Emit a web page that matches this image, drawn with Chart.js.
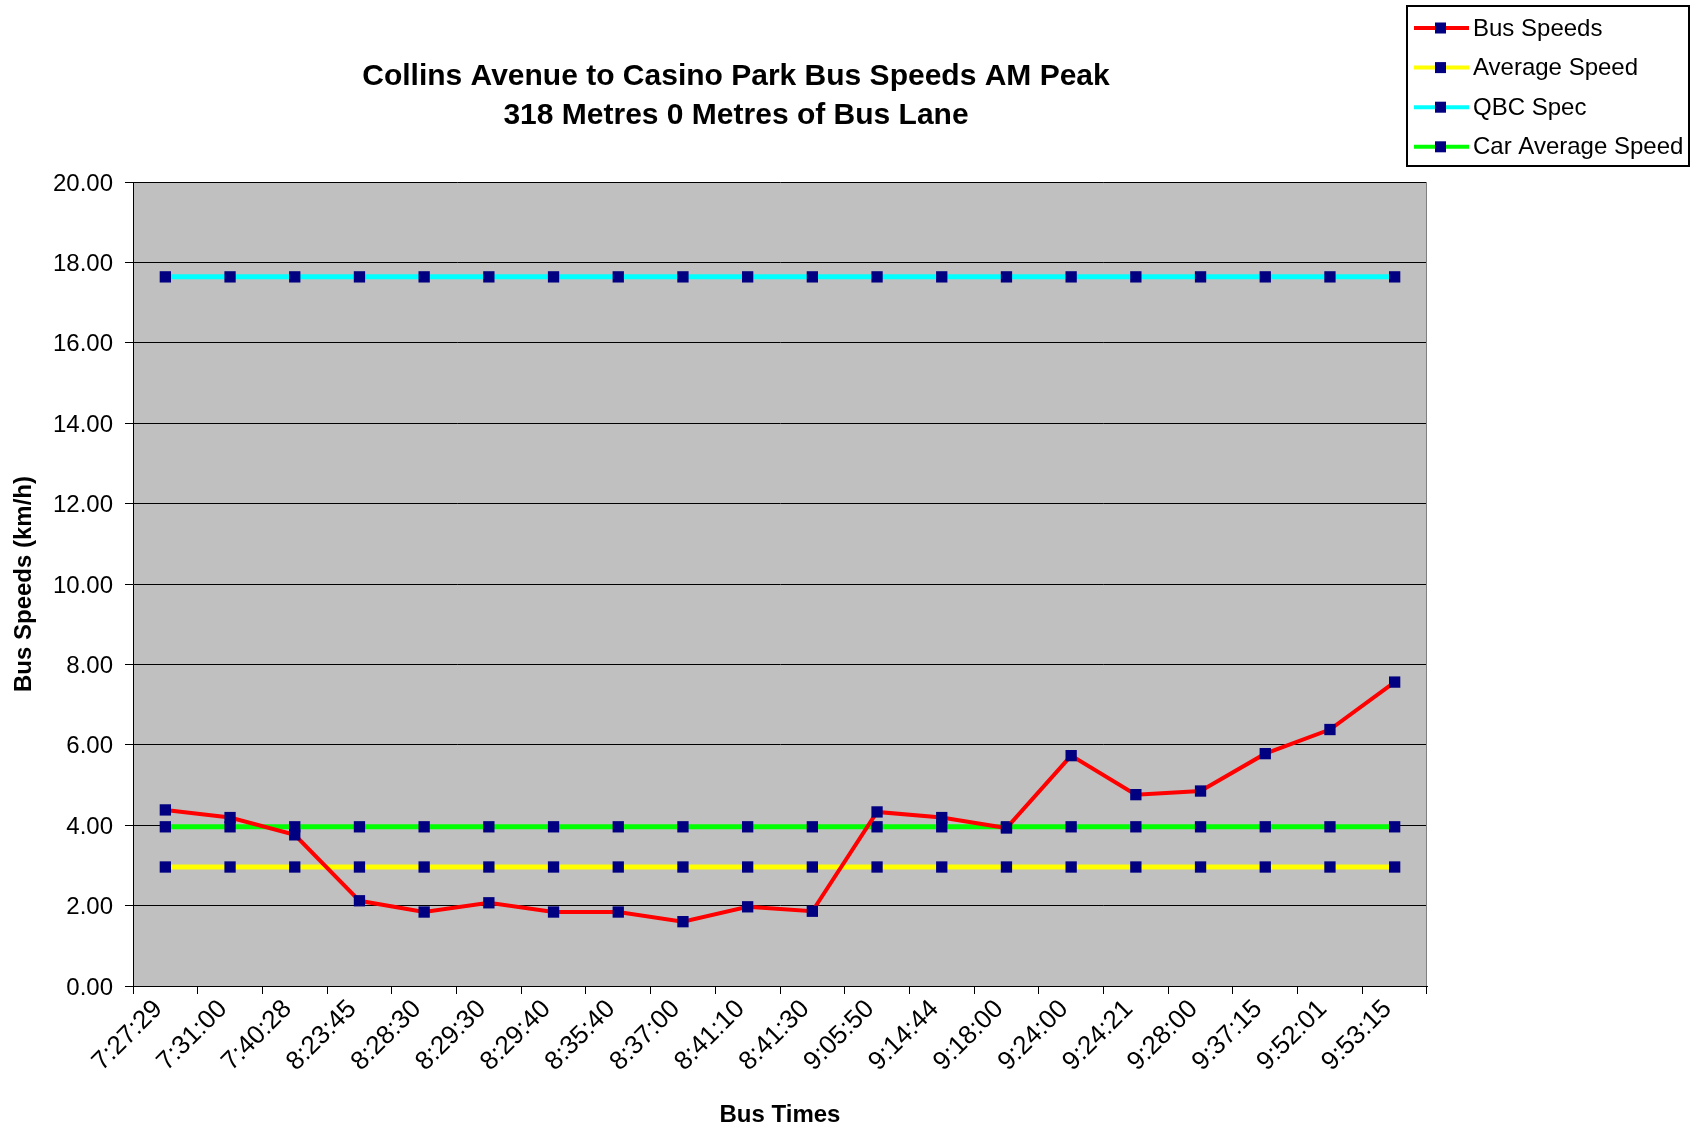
<!DOCTYPE html>
<html>
<head>
<meta charset="utf-8">
<title>Collins Avenue to Casino Park Bus Speeds AM Peak</title>
<script src="https://cdn.jsdelivr.net/npm/chart.js@4.4.1/dist/chart.umd.min.js"></script>
<style>
  body { margin: 0; background: #fff; }
</style>
</head>
<body>
<canvas id="myChart" width="1694" height="1129"></canvas>
<script>
var busTimes = ['7:27:29', '7:31:00', '7:40:28', '8:23:45', '8:28:30', '8:29:30', '8:29:40',
  '8:35:40', '8:37:00', '8:41:10', '8:41:30', '9:05:50', '9:14:44', '9:18:00', '9:24:00',
  '9:24:21', '9:28:00', '9:37:15', '9:52:01', '9:53:15'];

var busSpeeds = [4.38, 4.19, 3.76, 2.12, 1.84, 2.07, 1.84, 1.84, 1.60, 1.97, 1.86,
  4.33, 4.19, 3.93, 5.73, 4.76, 4.85, 5.78, 6.38, 7.56];

var averageSpeed = [2.96, 2.96, 2.96, 2.96, 2.96, 2.96, 2.96, 2.96, 2.96, 2.96,
  2.96, 2.96, 2.96, 2.96, 2.96, 2.96, 2.96, 2.96, 2.96, 2.96];

var qbcSpec = [17.64, 17.64, 17.64, 17.64, 17.64, 17.64, 17.64, 17.64, 17.64, 17.64,
  17.64, 17.64, 17.64, 17.64, 17.64, 17.64, 17.64, 17.64, 17.64, 17.64];

var carAverageSpeed = [3.96, 3.96, 3.96, 3.96, 3.96, 3.96, 3.96, 3.96, 3.96, 3.96,
  3.96, 3.96, 3.96, 3.96, 3.96, 3.96, 3.96, 3.96, 3.96, 3.96];

var titleLines = ['Collins Avenue to Casino Park Bus Speeds AM Peak', '318 Metres 0 Metres of Bus Lane'];

var fontFamily = '"Liberation Sans", Arial, sans-serif';
var markerColor = '#000080';

Chart.defaults.color = '#000';
Chart.defaults.font.family = fontFamily;

function series(label, values, color, width) {
  return {
    label: label,
    data: values,
    borderColor: color,
    backgroundColor: markerColor,
    borderWidth: width,
    pointStyle: 'rect',
    pointRadius: 8,
    pointBorderWidth: 0,
    pointBackgroundColor: markerColor,
    tension: 0,
    fill: false
  };
}

// grey plot area, title and the boxed legend, drawn the way the old spreadsheet did
var excelLook = {
  id: 'excelLook',
  beforeDraw: function (chart) {
    var a = chart.chartArea, ctx = chart.ctx;
    ctx.save();
    ctx.fillStyle = '#C0C0C0';
    ctx.fillRect(a.left, a.top, a.right - a.left, a.bottom - a.top);
    ctx.restore();
  },
  afterDraw: function (chart) {
    var a = chart.chartArea, ctx = chart.ctx;
    ctx.save();
    ctx.strokeStyle = '#808080';
    ctx.lineWidth = 1;
    ctx.beginPath();
    ctx.moveTo(a.right - 0.5, a.top);
    ctx.lineTo(a.right - 0.5, a.bottom);
    ctx.stroke();

    // title
    ctx.fillStyle = '#000';
    ctx.textAlign = 'center';
    ctx.textBaseline = 'middle';
    ctx.font = 'bold 30px ' + fontFamily;
    ctx.fillText(titleLines[0], 736, 77);
    ctx.fillText(titleLines[1], 736, 116);

    // legend
    ctx.fillStyle = '#fff';
    ctx.fillRect(1407, 6, 282, 160);
    ctx.strokeStyle = '#000';
    ctx.lineWidth = 2;
    ctx.strokeRect(1407, 6, 282, 160);
    ctx.font = '24px ' + fontFamily;
    ctx.textAlign = 'left';
    chart.data.datasets.forEach(function (ds, i) {
      var y = 28 + i * 39.6;
      ctx.strokeStyle = ds.borderColor;
      ctx.lineWidth = 4;
      ctx.beginPath();
      ctx.moveTo(1414, y);
      ctx.lineTo(1469, y);
      ctx.stroke();
      ctx.fillStyle = markerColor;
      ctx.fillRect(1435, y - 5.5, 11, 11);
      ctx.fillStyle = '#000';
      ctx.fillText(ds.label, 1473, y + 1);
    });
    ctx.restore();
  }
};

var ctx = document.getElementById('myChart');
var myChart = new Chart(ctx, {
  type: 'line',
  data: {
    labels: busTimes,
    datasets: [
      series('Bus Speeds', busSpeeds, '#FF0000', 4),
      series('Average Speed', averageSpeed, '#FFFF00', 5),
      series('QBC Spec', qbcSpec, '#00FFFF', 5),
      series('Car Average Speed', carAverageSpeed, '#00FF00', 5)
    ]
  },
  options: {
    responsive: false,
    animation: false,
    devicePixelRatio: 1,
    layout: { padding: { left: 0, right: 267, top: 182, bottom: 0 } },
    plugins: {
      legend: { display: false },
      title: { display: false },
      tooltip: { enabled: false }
    },
    scales: {
      x: {
        offset: true,
        afterFit: function (axis) { axis.height = 143; },
        grid: { offset: true, drawOnChartArea: false, color: '#000', tickLength: 8 },
        border: { color: '#000', width: 1 },
        ticks: {
          autoSkip: false,
          maxRotation: 45,
          minRotation: 45,
          padding: 0,
          labelOffset: -7,
          font: { size: 26 }
        },
        title: {
          display: true,
          text: 'Bus Times',
          font: { size: 24, weight: 'bold', lineHeight: 1.1 },
          padding: { top: 0, bottom: 0 }
        }
      },
      y: {
        min: 0,
        max: 20,
        afterFit: function (axis) { axis.width = 133; },
        grid: { color: '#000', tickLength: 8 },
        border: { color: '#000', width: 1 },
        ticks: {
          stepSize: 2,
          padding: 12,
          labelOffset: 2,
          font: { size: 24 },
          callback: function (v) { return v.toFixed(2); }
        },
        title: {
          display: true,
          text: 'Bus Speeds (km/h)',
          font: { size: 24, weight: 'bold' },
          padding: { top: 10, bottom: 0 }
        }
      }
    }
  },
  plugins: [excelLook]
});
</script>
</body>
</html>
